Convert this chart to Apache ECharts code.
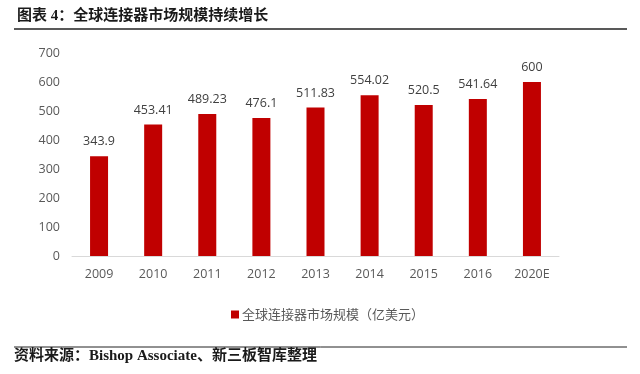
<!DOCTYPE html>
<html><head><meta charset="utf-8">
<script src="https://cdn.jsdelivr.net/npm/echarts@6/dist/echarts.min.js"></script>
<style>html,body{margin:0;padding:0;background:#fff}#c{width:640px;height:374px}</style>
</head><body><div id="c"></div>
<script>
var categories = ['2009','2010','2011','2012','2013','2014','2015','2016','2020E'];
var values = [343.9, 453.41, 489.23, 476.1, 511.83, 554.02, 520.5, 541.64, 600];
var valueLabels = ['343.9','453.41','489.23','476.1','511.83','554.02','520.5','541.64','600'];
var yTicks = [0,100,200,300,400,500,600,700];
var seriesName = '全球连接器市场规模（亿美元）';
var titleText = '图表 4：全球连接器市场规模持续增长';
var sourceText = '资料来源：Bishop Associate、新三板智库整理';

var serif = '"Liberation Serif","Noto Sans CJK SC",serif';
var chart = echarts.init(document.getElementById('c'), null, {renderer:'canvas'});
chart.setOption({
  animation:false,
  backgroundColor:'#fff',
  title:{text:titleText,left:12,top:4,textStyle:{fontFamily:serif,fontWeight:'bold',fontSize:15,color:'#1a1a1a'}},
  graphic:[
    {type:'line',shape:{x1:14,y1:29,x2:627,y2:29},style:{stroke:'#222',lineWidth:1.3}},
    {type:'line',shape:{x1:14,y1:347,x2:627,y2:347},style:{stroke:'#222',lineWidth:1}},
    {type:'text',left:14,top:349,style:{text:sourceText,fontFamily:serif,fontWeight:'bold',fontSize:15,fill:'#1a1a1a'}}
  ],
  legend:{data:[seriesName],left:226,top:303,itemWidth:8,itemHeight:8,icon:'rect',itemGap:4,
    textStyle:{fontFamily:'Noto Sans CJK SC',fontSize:13,color:'#595959',padding:[0,0,0,-2]}},
  grid:{left:72,top:53,width:487,height:203,containLabel:false},
  xAxis:{type:'category',data:categories,
    axisLine:{lineStyle:{color:'#d9d9d9',width:1}},axisTick:{show:false},
    axisLabel:{color:'#595959',fontSize:12.5,fontFamily:'Open Sans',margin:12}},
  yAxis:{type:'value',min:0,max:700,interval:100,
    axisLine:{show:false},axisTick:{show:false},splitLine:{show:false},
    axisLabel:{color:'#595959',fontSize:12.5,fontFamily:'Open Sans',margin:12,
      formatter:function(v){return yTicks.indexOf(v)>=0?String(v):'';}}},
  series:[{name:seriesName,type:'bar',data:values,barWidth:18,
    itemStyle:{color:'#c00000'},
    label:{show:true,position:'top',distance:8,color:'#404040',fontSize:12.5,fontFamily:'Open Sans',
      formatter:function(p){return valueLabels[p.dataIndex];}}}]
});
</script></body></html>
